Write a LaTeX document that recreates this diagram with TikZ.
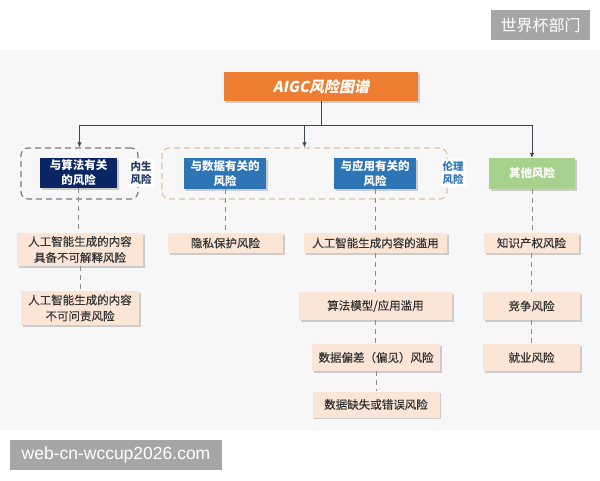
\documentclass[tikz,border=0pt]{standalone}
\usepackage{fontspec}
\setmainfont{Noto Sans CJK SC}
\newfontfamily\titlefont[FakeSlant=0.2]{Noto Sans CJK SC}
\newfontfamily\boxfont[FakeBold=0.35]{Noto Sans CJK SC}
\newfontfamily\wmfont{Liberation Sans}
\usetikzlibrary{arrows.meta,shadows}
\definecolor{panel}{HTML}{F7F7F7}
\definecolor{orangeT}{HTML}{ED7D31}
\definecolor{navy}{HTML}{0B2565}
\definecolor{blueH}{HTML}{2E75B6}
\definecolor{greenH}{HTML}{A9D18E}
\definecolor{pinkB}{HTML}{FBE5D6}
\definecolor{wmgrey}{HTML}{A6A6A6}
\definecolor{lineC}{HTML}{3A4556}
\definecolor{dashC}{HTML}{8C8C8C}
\definecolor{grpA}{HTML}{767B84}
\definecolor{grpB}{HTML}{E3C49E}
\definecolor{txtC}{HTML}{333333}
\definecolor{lab1C}{HTML}{1F3864}
\tikzset{
  shad/.style={drop shadow={shadow xshift=1.5pt,shadow yshift=-1.5pt,fill=black!40,opacity=.45}},
  headbox/.style={shad,inner sep=0pt,align=center,text=white,font=\fontsize{11.5}{15}\selectfont\bfseries},
  pinkbox/.style={shad,fill=pinkB,inner sep=0pt,align=center,text=txtC,font=\boxfont\fontsize{11.5}{16}\selectfont},
  grpbox/.style={rounded corners=7pt,line width=1.2pt,dash pattern=on 6pt off 4pt,inner sep=0pt},
  sidelab/.style={fill=white,inner sep=2pt,align=center,font=\fontsize{10.5}{13}\selectfont\bfseries},
  solidc/.style={draw=lineC,line width=1pt},
  arrowc/.style={solidc,-{Latex[length=5pt,width=4.5pt]}},
  dashc/.style={draw=dashC,line width=1pt,dash pattern=on 5pt off 4pt},
  wm/.style={fill=wmgrey,inner sep=0pt,text=white}
}
\begin{document}
\begin{tikzpicture}[x=1pt,y=-1pt]
\useasboundingbox (0,0) rectangle (600,480);
\fill[white] (0,0) rectangle (600,480);
\fill[panel] (0,50) rectangle (600,430);

% watermarks
\node[wm,minimum width=99pt,minimum height=30pt,font=\fontsize{16}{16}\selectfont] (wmA) at (540.5,25) {世界杯部门};
\node[wm,minimum width=212pt,minimum height=30pt,font=\wmfont\fontsize{17.5}{17.5}\selectfont] (wmB) at (116,455) {web-cn-wccup2026.com};

% title
\node[shad,fill=orangeT,minimum width=194pt,minimum height=29pt,inner sep=0pt,text=white,font=\titlefont\bfseries\fontsize{15}{15}\selectfont] (title) at (321,86.5) {AIGC风险图谱};

% group boxes
\node[grpbox,draw=grpA,minimum width=117pt,minimum height=51pt] (gA) at (79.5,173.5) {};
\node[grpbox,draw=grpB,minimum width=285pt,minimum height=51pt] (gB) at (304.5,173.5) {};

% header boxes
\node[headbox,fill=navy,minimum width=77pt,minimum height=30pt] (algo) at (78.5,173) {与算法有关\\的风险};
\node[headbox,fill=blueH,minimum width=82pt,minimum height=31pt] (data) at (225,173.5) {与数据有关的\\风险};
\node[headbox,fill=blueH,minimum width=82pt,minimum height=31pt] (app) at (375,173.5) {与应用有关的\\风险};
\node[headbox,fill=greenH,minimum width=86pt,minimum height=31pt] (other) at (532,173.5) {其他风险};

% side labels
\node[sidelab,text=lab1C] (labA) at (141,173) {内生\\风险};
\node[sidelab,text=blueH] (labB) at (453,173) {伦理\\风险};

% pink boxes
\node[pinkbox,minimum width=126pt,minimum height=33pt] (p1) at (80,249.5) {人工智能生成的内容\\具备不可解释风险};
\node[pinkbox,minimum width=118pt,minimum height=34pt] (p2) at (80,308) {人工智能生成的内容\\不可问责风险};
\node[pinkbox,minimum width=115pt,minimum height=20pt] (q1) at (225.5,243) {隐私保护风险};
\node[pinkbox,minimum width=143pt,minimum height=20pt] (r1) at (375.5,243) {人工智能生成内容的滥用};
\node[pinkbox,minimum width=153pt,minimum height=28pt] (r2) at (375.5,306) {算法模型/应用滥用};
\node[pinkbox,minimum width=128pt,minimum height=27pt] (r3) at (376,357.5) {数据偏差（偏见）风险};
\node[pinkbox,minimum width=127pt,minimum height=26pt] (r4) at (376,404.5) {数据缺失或错误风险};
\node[pinkbox,minimum width=95pt,minimum height=20pt] (s1) at (531.5,243) {知识产权风险};
\node[pinkbox,minimum width=97pt,minimum height=28pt] (s2) at (531.5,306) {竞争风险};
\node[pinkbox,minimum width=97pt,minimum height=27pt] (s3) at (531.5,357.5) {就业风险};

% solid tree
\coordinate (hub) at (321,125);
\draw[solidc] (title.south) -- (hub);
\draw[arrowc] (hub) -| (gA.north);
\draw[arrowc] (hub) -| (gB.north);
\draw[arrowc] (hub) -| (other.north);

% dashed connectors
\draw[dashc] (algo.south) -- (algo.south |- p1.north);
\draw[dashc] (p1.south) -- (p1.south |- p2.north);
\draw[dashc] (data.south) -- (data.south |- q1.north);
\draw[dashc] (app.south) -- (app.south |- r1.north);
\draw[dashc] (r1.south) -- (r1.south |- r2.north);
\draw[dashc] (r2.south) -- (r2.south |- r3.north);
\draw[dashc] (r3.south) -- (r3.south |- r4.north);
\draw[dashc] (other.south) -- (other.south |- s1.north);
\draw[dashc] (s1.south) -- (s1.south |- s2.north);
\draw[dashc] (s2.south) -- (s2.south |- s3.north);
\end{tikzpicture}
\end{document}
